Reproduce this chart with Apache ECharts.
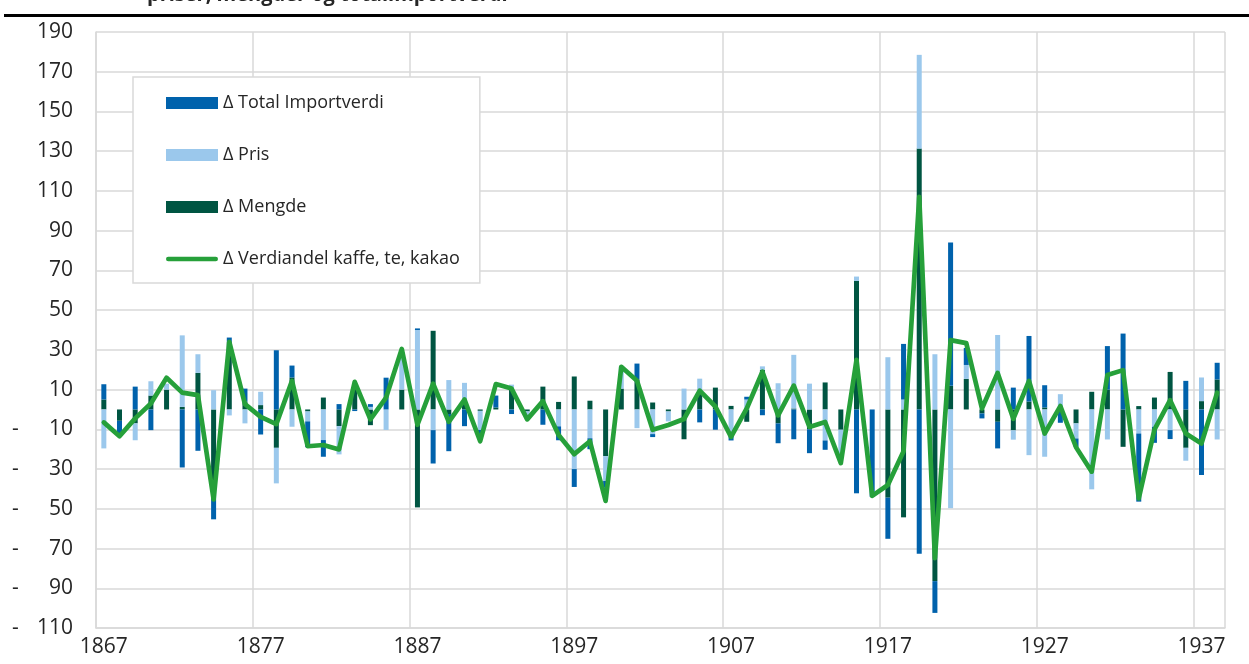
<!DOCTYPE html>
<html><head><meta charset="utf-8">
<script src="https://cdn.jsdelivr.net/npm/echarts@6/dist/echarts.min.js"></script>
<style>html,body{margin:0;padding:0;background:#fff}#c{width:1249px;height:664px}</style>
</head><body><div id="c"></div>
<script>
const years = ['1867','1868','1869','1870','1871','1872','1873','1874','1875','1876','1877','1878','1879','1880','1881','1882','1883','1884','1885','1886','1887','1888','1889','1890','1891','1892','1893','1894','1895','1896','1897','1898','1899','1900','1901','1902','1903','1904','1905','1906','1907','1908','1909','1910','1911','1912','1913','1914','1915','1916','1917','1918','1919','1920','1921','1922','1923','1924','1925','1926','1927','1928','1929','1930','1931','1932','1933','1934','1935','1936','1937','1938'];

// Stacked segments as drawn (Mengde at base, then Pris, then Total)
const mengde = [5,-5.7,-7,7,10,1.3,18.4,-40.6,34,4,2.2,-19.3,16.1,-1,6,-8.4,12.5,-7.9,0,10,-49.3,39.6,-2.3,3,-0.7,1,10,-1,11.5,3.8,16.6,4.4,-23.5,10.5,15.1,3.5,-1,-15,9,11,1.8,-6.2,20,-7,0.5,-10,13.6,-10.2,64.7,0,-44.4,-54.3,131.3,-86.4,11.9,15.4,-2,-6.2,-10.5,4,1,0,-7,8.9,10,-18.8,1.7,6,18.9,-19.3,4.2,15.1];
const pris = [-19.6,0,-8.5,7.2,3,36,9.4,9.7,-3,-7,6.7,-17.9,-8.7,-5,-15.4,-14.2,0,1.3,-10.3,16,40,-10.4,14.8,10.4,-9.6,0,2.5,-4,0,-8.5,-30,-14.5,-12.5,11,-9.4,-12.4,-5,10.5,6.5,0,-13,5,1.7,13.2,27,13,-15.6,-12,2.2,0,26.3,5,47.2,27.8,-49.7,7,0,37.5,-4.7,-23,-23.8,7.7,-7.6,-40.2,-15.1,0,-12.1,-8.7,-10.4,-6.5,11.9,-15.1];
const total = [7.7,-6.5,11.5,-10.4,0,-29.2,-20.8,-14.7,2.2,6.5,-12.6,29.8,6,-13,-8.4,2.7,-0.8,1.4,16,0,0.8,-16.8,-18.7,-8.4,-2,6,-2.3,0,-7.7,-7,-9,-5.5,-3.4,0,8,-1.5,0,0,-6.5,-10.2,-2.6,1.4,-2.9,-10,-15,-12,-4.7,0,-42.2,-44,-20.7,28,-72.6,-16,72.2,8.6,-2.5,-13.4,11,33,11.2,-6.7,-4.2,0,21.9,38.2,-34.3,-8.1,-4.5,14.4,-33,8.4];
const verdiandel = [-6.5,-13.5,-4.5,3,16,8.5,7.2,-45.3,34,2.7,-3.7,-7.4,14.4,-18.5,-17.9,-20.1,13.9,-5,6,30.5,-7.7,13,-6.2,5,-16,12.8,10.5,-5,4.2,-12.8,-22.5,-16,-46,21.5,14.5,-10.2,-7.8,-4.8,9.5,1.5,-13.8,0.5,19,-3,12,-8.8,-6.3,-27,25,-43.5,-38,-21,107,-74.8,34.9,33.4,0.5,18.4,-4.7,14.4,-12.1,1.7,-19,-31.3,17.3,19.8,-44.8,-10.1,4.7,-12.1,-17.1,8.4];

const yMin = -110, yMax = 190, yStep = 20;
const titleText = 'priser, mengder og totalimportverdi';
const names = {total:'Δ Total Importverdi', pris:'Δ Pris', mengde:'Δ Mengde', line:'Δ Verdiandel kaffe, te, kakao'};

const FONT = '"Open Sans", "DejaVu Sans", sans-serif';
const txt = '#262626';
const grid = '#d9d9d9';
const green = '#26A03A';

const chart = echarts.init(document.getElementById('c'), null, {renderer:'canvas'});
chart.setOption({
  animation: false,
  backgroundColor: '#fff',
  textStyle: {fontFamily: FONT},
  grid: {left: 96, right: 24, top: 32, bottom: 36, containLabel: false},
  graphic: [
    {type:'text', left: 147, top: -15, style:{text: titleText, font: 'bold 20px ' + FONT, fill: txt}},
    {type:'line', shape:{x1: 4, y1: 15.5, x2: 1249, y2: 15.5}, style:{stroke:'#000', lineWidth: 3}}
  ],
  legend: {
    orient: 'vertical', left: 133, top: 77,
    data: [
      {name: names.total, icon:'rect'},
      {name: names.pris, icon:'rect'},
      {name: names.mengde, icon:'rect'},
      {name: names.line, icon: 'path://M2,0H50A2,2 0 0 1 50,4.5H2A2,2 0 0 1 2,0Z', itemStyle: {color: green, borderWidth: 0}}
    ],
    itemWidth: 52, itemHeight: 12, itemGap: 34,
    padding: [17, 20, 15, 33],
    backgroundColor: '#fff', borderColor: grid, borderWidth: 1.5,
    selectedMode: false,
    textStyle: {fontSize: 18, color: txt, fontFamily: FONT}
  },
  xAxis: {
    type: 'category', data: years, boundaryGap: true,
    axisLine: {show: true, onZero: false, lineStyle: {color: grid, width: 1.5}},
    axisTick: {show: false, interval: 9},
    axisLabel: {interval: 9, color: txt, fontSize: 21, fontFamily: FONT, margin: 9},
    splitLine: {show: true, interval: 9, lineStyle: {color: grid, width: 1.5}}
  },
  yAxis: {
    type: 'value', min: yMin, max: yMax, interval: yStep,
    axisLine: {show: true, lineStyle: {color: grid, width: 1.5}},
    axisTick: {show: false},
    splitLine: {show: true, lineStyle: {color: grid, width: 1.5}},
    axisLabel: {
      margin: 23, color: txt, fontSize: 21, fontFamily: FONT,
      formatter: v => v < 0 ? '{d|-}{n|' + Math.abs(v) + '}' : '{d|}{n|' + v + '}',
      rich: {
        d: {width: 21, align: 'left', fontSize: 21, color: txt, fontFamily: FONT},
        n: {width: 40, align: 'right', fontSize: 21, color: txt, fontFamily: FONT}
      }
    }
  },
  series: [
    {name: names.mengde, type: 'bar', stack: 's', data: mengde, barWidth: 5, itemStyle: {color: '#005542'}},
    {name: names.pris, type: 'bar', stack: 's', data: pris, barWidth: 5, itemStyle: {color: '#9BC8EC'}},
    {name: names.total, type: 'bar', stack: 's', data: total, barWidth: 5, itemStyle: {color: '#0062AC'}},
    {name: names.line, type: 'line', data: verdiandel, symbol: 'none', showSymbol: false, z: 5,
     lineStyle: {width: 4.7, color: green, cap: 'round', join: 'round'}, itemStyle: {color: green}}
  ]
});
</script></body></html>
